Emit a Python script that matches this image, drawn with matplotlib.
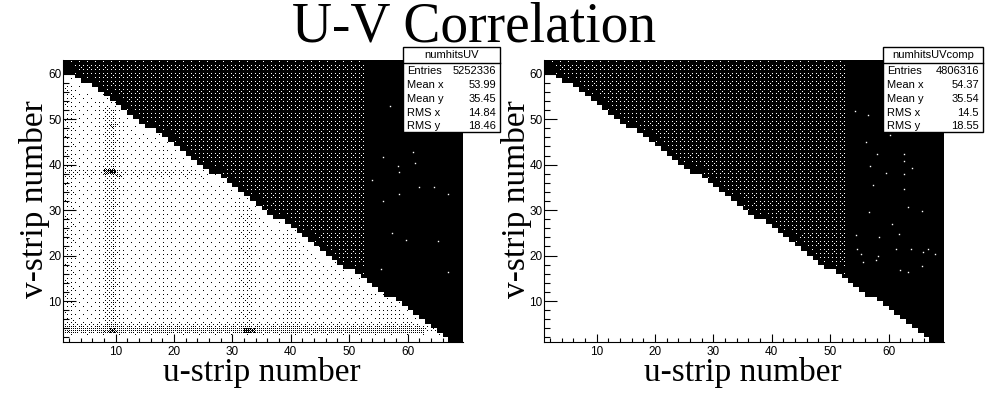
import numpy as np
import matplotlib
matplotlib.use("Agg")
import matplotlib.pyplot as plt
from matplotlib.lines import Line2D
from matplotlib.patches import Rectangle

# top edge of the filled triangle for u strips 1..66
edge_top = [60, 60, 59, 58, 58, 57, 56, 55, 54, 53, 52, 51, 50, 49, 48, 48, 47,
            46, 45, 44, 43, 42, 41, 40, 39, 38, 38, 37, 36, 35, 34, 33, 32, 31,
            30, 29, 28, 28, 27, 26, 25, 24, 23, 22, 21, 20, 19, 18, 17, 17, 16,
            15, 14, 13, 12, 11, 11, 10, 9, 8, 7, 6, 5, 4, 3, 2]

# fraction of black dots inside the triangle of the left panel, by u strip
col_black = [.07, .07, .03, .03, .03, .03, .05, .12, .15, .09, .04, .03, .03,
             .03, .03, .03, .04, .05, .04, .03, .03, .03, .03, .03, .03, .03,
             .03, .03, .03, .04, .07, .09, .05, .03, .03, .03, .03, .04, .07,
             .06, .04, .03, .03, .03, .03, .03, .03, .03, .03, .04, .04, .04,
             .04, .05, .06, .06, .06, .06, .06, .06, .06, .06, .06, .06, .06,
             .06, .03, .03]
# extra black fraction by v strip, only the rows that stand out
row_strips = [3, 4, 37, 38]
row_black = [.20, .10, .04, .08]
# single hot cells (u, v, extra fraction)
hot_u = [8, 9, 9, 9, 32, 33, 10]
hot_v = [38, 38, 48, 3, 3, 3, 37]
hot_frac = [.4, .6, .2, .3, .5, .4, .2]

# fraction of white dots above the triangle, by number of strips above the edge
above_white = [0.0, 0.03, 0.06, 0.08]
last_dot_strip = 52

# lone dots right of u=53
left_lone_u = [57.0, 55.8, 60.9, 58.3, 58.5, 61.2, 54.0, 62.0, 64.6, 58.6, 67.0,
               55.8, 57.4, 59.7, 65.3, 55.4, 67.0]
left_lone_v = [52.9, 41.7, 42.7, 39.7, 38.4, 40.3, 36.6, 35.0, 35.0, 33.5, 33.6,
               31.9, 24.9, 23.4, 23.3, 17.0, 16.5]
right_lone_u = [54.3, 56.5, 60.2, 56.2, 58.0, 62.7, 62.7, 56.9, 64.0, 59.5, 62.6,
                57.3, 62.7, 56.7, 63.3, 65.8, 60.6, 54.4, 58.3, 61.8, 54.6, 61.2,
                63.8, 65.9, 66.7, 68.0, 55.3, 58.2, 55.6, 57.9, 65.7, 62.0, 63.3]
right_lone_v = [51.8, 51.0, 46.5, 44.9, 42.4, 42.3, 40.8, 39.8, 39.3, 38.2, 38.0,
                35.5, 34.6, 29.5, 30.6, 29.8, 26.9, 24.5, 24.0, 24.7, 21.5, 21.4,
                21.4, 20.8, 21.4, 20.3, 20.3, 19.9, 18.5, 19.0, 17.6, 16.8, 16.5]

stat_names = ["Entries", "Mean x", "Mean y", "RMS x", "RMS y"]
left_stats = ["5252336", "53.99", "35.45", "14.84", "18.46"]
right_stats = ["4806316", "54.37", "35.54", "14.5", "18.55"]

W, H = 993, 401
U_MIN, U_MAX = 1, 69.5
V_MIN, V_MAX = 1, 63
AX_W, AX_H = 400, 282

plt.rcParams['font.family'] = ['Liberation Sans', 'DejaVu Sans']

# ordered dither tile, turns a density per strip into single pixels
bayer = np.array([[0]])
for _ in range(4):
    bayer = np.block([[4 * bayer, 4 * bayer + 2], [4 * bayer + 3, 4 * bayer + 1]])
bayer = (bayer + 0.5) / bayer.size


def make_image(with_inner_dots):
    n_u, n_v = len(col_black) + 1, V_MAX - V_MIN + 1
    white = np.zeros((n_v, n_u))  # fraction of white per cell
    for iu in range(n_u):
        u = iu + 1
        top = edge_top[iu] if iu < len(edge_top) else 0
        for iv in range(n_v):
            v = iv + 1
            if v < top:
                black = 0.0
                if with_inner_dots:
                    black = col_black[iu]
                    if v in row_strips:
                        black += row_black[row_strips.index(v)]
                    for a, b, f in zip(hot_u, hot_v, hot_frac):
                        if a == u and b == v:
                            black += f
                    if v >= top - 2:
                        black *= 0.3
                    if v < 3:
                        black = 0.01
                white[iv, iu] = 1 - min(black, 0.8)
            elif u <= last_dot_strip:
                k = min(v - top, len(above_white) - 1)
                white[iv, iu] = 0.03 if v >= 62 else above_white[k]

    rows = np.arange(AX_H)
    cols = np.arange(AX_W)
    uu = U_MIN + (cols + 0.5) / AX_W * (U_MAX - U_MIN)
    vv = V_MIN + (rows + 0.5) / AX_H * (V_MAX - V_MIN)
    iu = np.clip(uu.astype(int) - 1, 0, n_u - 1)
    iv = np.clip(vv.astype(int) - 1, 0, n_v - 1)
    frac = white[np.ix_(iv, iu)]
    tile = bayer[np.ix_(rows % 16, cols % 16)]
    return frac > tile


def draw_panel(x0, lone_u, lone_v, with_inner_dots, hist_name, stats, box, label_x):
    ax = fig.add_axes([x0 / W, (H - 342) / H, AX_W / W, AX_H / H])
    ax.imshow(make_image(with_inner_dots), origin='lower', cmap='gray', vmin=0, vmax=1,
              extent=[U_MIN, U_MAX, V_MIN, V_MAX], aspect='auto', interpolation='nearest')
    ax.plot(lone_u, lone_v, ls='none', marker='s', ms=1, mew=0, color='white')
    ax.set_xlim(U_MIN, U_MAX)
    ax.set_ylim(V_MIN, V_MAX)
    ax.set_xticks(np.arange(10, 70, 10))
    ax.set_yticks(np.arange(10, 70, 10))
    ax.set_xticks(np.arange(2, 70, 2), minor=True)
    ax.set_yticks(np.arange(2, 63, 2), minor=True)
    ax.tick_params(axis='x', which='major', direction='in', length=5.5, width=0.8, labelsize=8.5, pad=3)
    ax.tick_params(axis='x', which='minor', direction='in', length=3, width=0.8)
    ax.tick_params(axis='y', which='major', direction='in', length=9, width=0.8, labelsize=8.5, pad=1)
    ax.tick_params(axis='y', which='minor', direction='in', length=4.5, width=0.8)
    for side in ['top', 'right']:
        ax.spines[side].set_visible(False)
    fig.text((x0 + 199) / W, 1 - 373 / H, "u-strip number", family='Liberation Serif', fontsize=24,
             ha='center', va='center')
    fig.text(label_x / W, 1 - 199 / H, "v-strip number", family='Liberation Serif', fontsize=24,
             rotation=90, ha='center', va='center')

    bx0, bx1 = box
    fig.add_artist(Rectangle((bx0 / W, 1 - 132 / H), (bx1 - bx0) / W, 85 / H, transform=fig.transFigure,
                             facecolor='white', edgecolor='black', lw=1, zorder=5))
    fig.add_artist(Line2D([bx0 / W, bx1 / W], [1 - 63 / H, 1 - 63 / H], color='black', lw=1, zorder=6))
    fig.text((bx0 + bx1) / 2 / W, 1 - 55.5 / H, hist_name, fontsize=8, ha='center', va='center', zorder=7)
    for name, val, y in zip(stat_names, stats, [71, 85, 98.5, 113, 126]):
        fig.text((bx0 + 4) / W, 1 - y / H, name, fontsize=8, ha='left', va='center', zorder=7)
        fig.text((bx1 - 4) / W, 1 - y / H, val, fontsize=8, ha='right', va='center', zorder=7)


fig = plt.figure(figsize=(W / 100, H / 100), dpi=100)
draw_panel(63, left_lone_u, left_lone_v, True, "numhitsUV", left_stats, (403, 500), 35)
draw_panel(544, right_lone_u, right_lone_v, False, "numhitsUVcomp", right_stats, (883, 983), 516)
fig.text(474 / W, 1 - 27 / H, "U-V Correlation", family='Liberation Serif', fontsize=40,
         ha='center', va='center')

fig.savefig("out.png", dpi=100)
